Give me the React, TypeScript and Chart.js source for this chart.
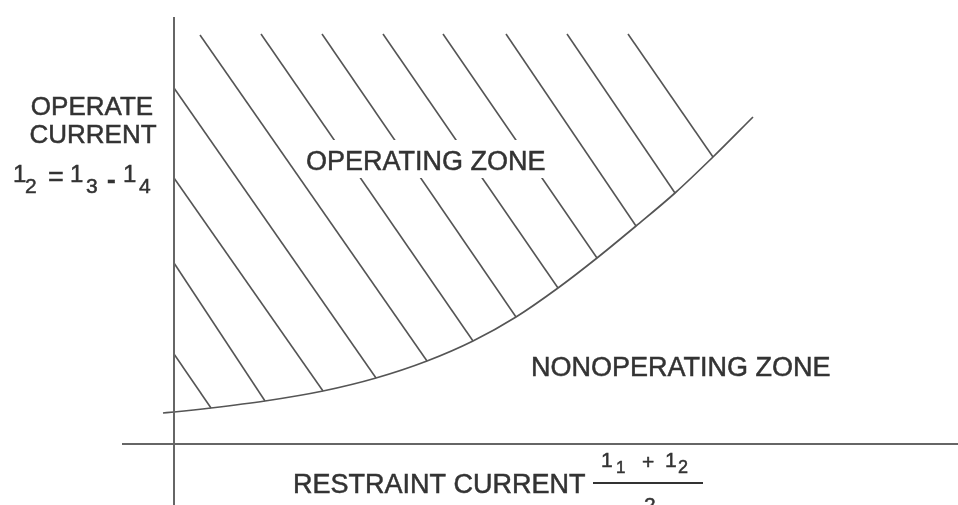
import React, { useEffect, useRef } from "react";
import { Chart, registerables } from "chart.js";

Chart.register(...registerables);

// Units: one unit = restraint / operate current step (origin at axis crossing)
const AXIS_X_RANGE = [-5.2, 78.4];
const AXIS_Y_RANGE = [-6.1, 42.7];

// Boundary (restraint characteristic) curve
const curveX = [-1.1, 0, 3.7, 9.1, 14.9, 20.2, 25.3, 29.9, 34.2, 38.4, 42.3, 46.2, 50.1, 53.9, 57.9];
const curveY = [3.1, 3.2, 3.6, 4.3, 5.3, 6.6, 8.3, 10.3, 12.7, 15.6, 18.6, 21.8, 25.1, 28.7, 32.7];

// Hatch lines of the operating zone (start -> end on curve)
const hatchStartX = [0, 0, 0, 0, 2.6, 8.7, 14.8, 20.9, 26.9, 33.2, 39.3, 45.4];
const hatchStartY = [9.0, 18.1, 26.6, 35.6, 40.9, 41.0, 41.0, 41.0, 41.0, 41.0, 41.0, 41.0];
const hatchEndX = [3.7, 9.1, 14.9, 20.2, 25.3, 29.9, 34.2, 38.4, 42.3, 46.2, 50.1, 53.9];
const hatchEndY = [3.6, 4.3, 5.3, 6.6, 8.3, 10.3, 12.7, 15.6, 18.6, 21.8, 25.1, 28.7];

const LINE = "#555555";
const AXIS = "#666666";
const TEXT = "#333333";
const FONT = "'Liberation Sans', Arial, Helvetica, sans-serif";

const labelsPlugin = {
  id: "labels",
  afterDatasetsDraw(chart: any) {
    const ctx = chart.ctx as CanvasRenderingContext2D;
    ctx.save();
    ctx.fillStyle = "#ffffff";
    ctx.fillRect(302, 140, 252, 38);
    ctx.fillStyle = TEXT;
    ctx.strokeStyle = TEXT;
    ctx.lineWidth = 0.5;
    ctx.textBaseline = "alphabetic";

    const t = (s: string, x: number, y: number, size: number, align: CanvasTextAlign = "left", weight = "normal") => {
      ctx.font = `${weight} ${size}px ${FONT}`;
      ctx.textAlign = align;
      ctx.fillText(s, x, y);
      ctx.strokeText(s, x, y);
    };

    t("OPERATING ZONE", 306, 170, 27);
    t("NONOPERATING ZONE", 531, 376, 27);
    t("OPERATE", 92, 115, 26, "center");
    t("CURRENT", 93, 143, 26, "center");

    // 1₂ = 1₃ - 1₄
    t("1", 13, 182, 24);
    t("2", 25, 193, 21);
    t("=", 48, 186, 27);
    t("1", 70, 182, 24);
    t("3", 86, 193, 21);
    t("-", 107, 188, 26, "left", "bold");
    t("1", 123, 182, 24);
    t("4", 139, 193, 21);

    // RESTRAINT CURRENT (1₁ + 1₂)/2
    t("RESTRAINT CURRENT", 293, 493, 27);
    t("1", 601, 467, 21);
    t("1", 616, 473, 17);
    t("+", 642, 469, 21);
    t("1", 665, 467, 21);
    t("2", 678, 473, 18);
    ctx.fillRect(593, 482, 110, 2);
    t("2", 644, 512, 21);
    ctx.restore();
  },
};

export default function App() {
  const ref = useRef<HTMLCanvasElement | null>(null);

  useEffect(() => {
    if (!ref.current) return;
    const datasets: any[] = [];
    datasets.push({
      data: [
        { x: 0, y: AXIS_Y_RANGE[1] },
        { x: 0, y: AXIS_Y_RANGE[0] },
      ],
      borderColor: AXIS,
      borderWidth: 2,
    });
    datasets.push({
      data: [
        { x: AXIS_X_RANGE[0], y: 0 },
        { x: AXIS_X_RANGE[1], y: 0 },
      ],
      borderColor: AXIS,
      borderWidth: 2,
    });
    datasets.push({
      data: curveX.map((x, i) => ({ x, y: curveY[i] })),
      borderColor: LINE,
      borderWidth: 1.7,
      cubicInterpolationMode: "monotone",
    });
    hatchStartX.forEach((sx, i) => {
      datasets.push({
        data: [
          { x: sx, y: hatchStartY[i] },
          { x: hatchEndX[i], y: hatchEndY[i] },
        ],
        borderColor: LINE,
        borderWidth: 1.6,
      });
    });
    datasets.forEach((d) => {
      d.showLine = true;
      d.pointRadius = 0;
      d.fill = false;
    });

    const chart = new Chart(ref.current, {
      type: "scatter",
      data: { datasets },
      options: {
        animation: false,
        responsive: false,
        events: [],
        layout: { padding: 0 },
        plugins: { legend: { display: false }, tooltip: { enabled: false }, title: { display: false } },
        scales: {
          x: { type: "linear", min: -17.4, max: 78.4, display: false },
          y: { type: "linear", min: -6.1, max: 44.4, display: false },
        },
      },
      plugins: [labelsPlugin],
    } as any);
    return () => chart.destroy();
  }, []);

  return (
    <div style={{ position: "fixed", left: 0, top: 0, width: 958, height: 505, background: "#fff" }}>
      <canvas ref={ref} width={958} height={505} style={{ display: "block" }} />
    </div>
  );
}
